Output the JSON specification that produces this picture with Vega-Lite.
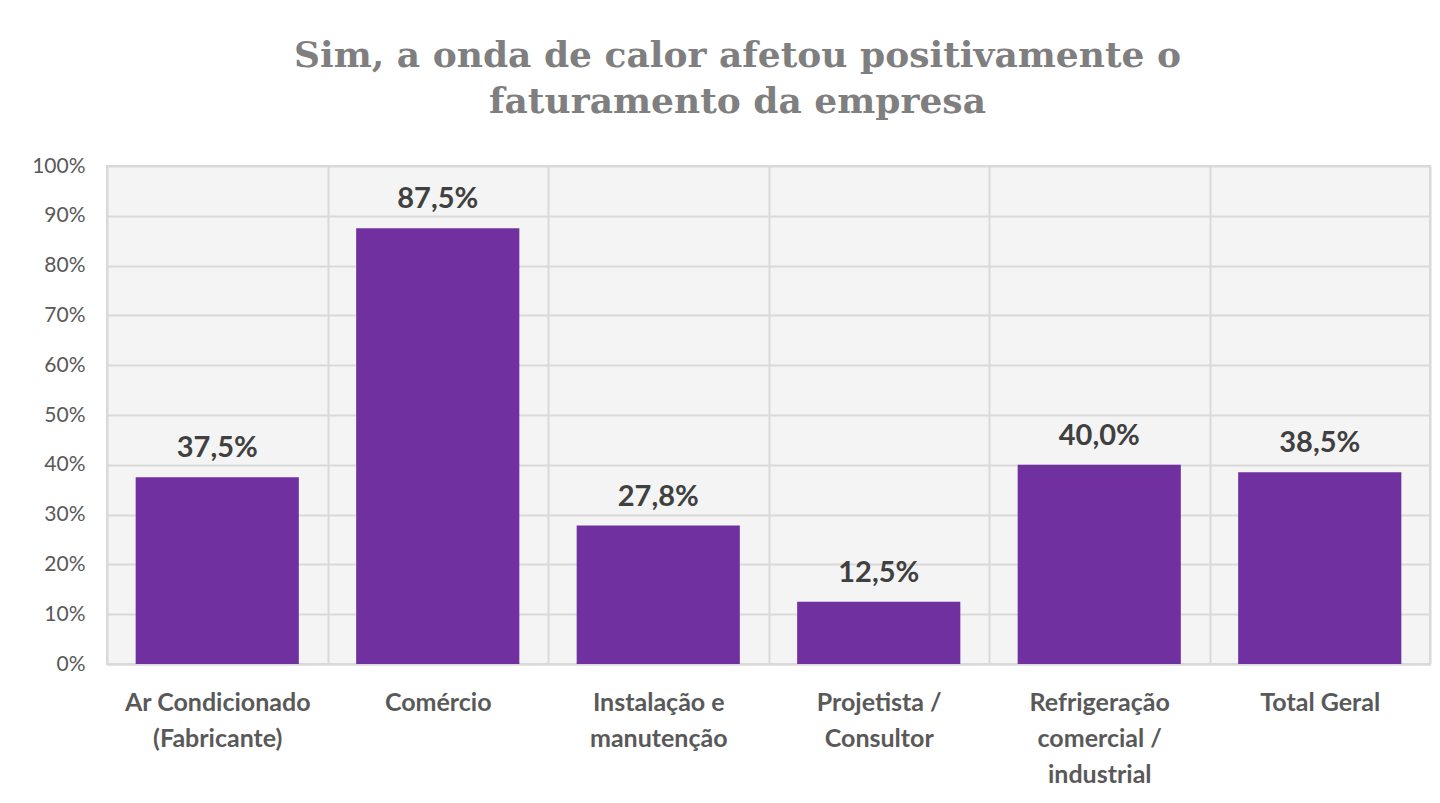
{
  "$schema": "https://vega.github.io/schema/vega-lite/v6.json",
  "autosize": "none",
  "width": 1323,
  "height": 498,
  "padding": {"left": 107, "top": 166, "right": 10, "bottom": 139},
  "background": "white",
  "config": {
    "locale": {"number": {"decimal": ",", "thousands": ".", "grouping": [3], "currency": ["R$", ""]}},
    "view": {"fill": "#f4f4f4", "stroke": "#d9d9d9", "strokeWidth": 2}
  },
  "title": {
    "text": ["Sim, a onda de calor afetou positivamente o", "faturamento da empresa"],
    "anchor": "middle",
    "dx": -31,
    "offset": 34,
    "font": "DejaVu Serif",
    "fontSize": 36,
    "fontWeight": "bold",
    "color": "#7f7f7f",
    "lineHeight": 46
  },
  "data": {
    "values": [
      {"setor": "Ar Condicionado|(Fabricante)", "valor": 0.375},
      {"setor": "Comércio", "valor": 0.875},
      {"setor": "Instalação e|manutenção", "valor": 0.278},
      {"setor": "Projetista /|Consultor", "valor": 0.125},
      {"setor": "Refrigeração|comercial /|industrial", "valor": 0.4},
      {"setor": "Total Geral", "valor": 0.385}
    ]
  },
  "encoding": {
    "x": {
      "field": "setor",
      "type": "nominal",
      "sort": null,
      "scale": {"paddingInner": 0, "paddingOuter": 0},
      "axis": {
        "title": null,
        "labelAngle": 0,
        "labelExpr": "split(datum.label, '|')",
        "labelFont": "Lato",
        "labelFontSize": 25,
        "labelFontWeight": "bold",
        "labelColor": "#595959",
        "labelLineHeight": 36,
        "labelPadding": 26,
        "labelBaseline": "top",
        "labelLimit": 260,
        "ticks": false,
        "tickBand": "extent",
        "domainColor": "#d9d9d9",
        "domainWidth": 2,
        "grid": true,
        "gridColor": "#d9d9d9",
        "gridWidth": 2
      }
    },
    "y": {
      "field": "valor",
      "type": "quantitative",
      "scale": {"domain": [0, 1]},
      "axis": {
        "title": null,
        "format": ".0%",
        "values": [0, 0.1, 0.2, 0.3, 0.4, 0.5, 0.6, 0.7, 0.8, 0.9, 1],
        "labelOverlap": false,
        "labelFont": "Lato",
        "labelFontSize": 21,
        "labelColor": "#595959",
        "labelPadding": 22,
        "ticks": false,
        "domain": false,
        "gridColor": "#d9d9d9",
        "gridWidth": 2
      }
    }
  },
  "layer": [
    {"mark": {"type": "bar", "color": "#7030a0", "width": {"band": 0.74}}},
    {
      "mark": {"type": "text", "dy": -20, "baseline": "alphabetic", "font": "Lato", "fontSize": 29, "fontWeight": "bold", "color": "#404040"},
      "encoding": {"text": {"field": "valor", "type": "quantitative", "format": ".1%"}}
    }
  ]
}
